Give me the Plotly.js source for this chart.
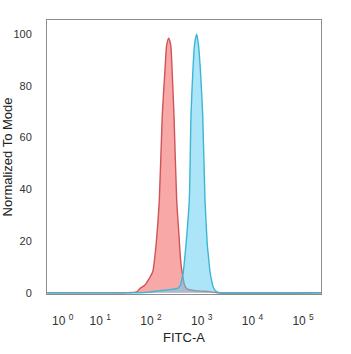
<!DOCTYPE html>
<html>
<head>
<meta charset="utf-8">
<script src="https://cdn.plot.ly/plotly-3.0.1.min.js"></script>
<style>html,body{margin:0;padding:0;background:#fff;}#chart{width:351px;height:354px;}</style>
</head>
<body>
<div id="chart"></div>
<script>
// Control (red) histogram: FITC-A values and normalized counts
const redX = [0.9, 30, 52, 61, 76, 108, 120, 126, 146, 167, 186, 204, 223, 245, 263, 284, 321, 357, 373, 391, 428, 458, 513, 738, 1459, 2094, 230000];
const redY = [0, 0, 0.3, 1.7, 3.0, 8.1, 14.6, 18.5, 35.9, 68.7, 84.2, 95.8, 98.5, 95.8, 84.2, 68.7, 35.9, 22, 16, 11, 6, 3, 1.5, 0.8, 0.4, 0, 0];
// Stained (blue) histogram
const blueX = [0.9, 60, 96, 151, 237, 341, 382, 403, 434, 469, 490, 569, 615, 664, 721, 796, 865, 956, 1047, 1162, 1289, 1349, 1459, 1597, 1694, 1977, 2300, 230000];
const blueY = [0, 0, 0.3, 0.8, 1.2, 1.8, 3.0, 5.0, 8.1, 14.6, 18.5, 35.9, 68.7, 84.2, 95.8, 100, 95.8, 84.2, 68.7, 35.9, 18.5, 14.6, 8.1, 4.0, 2.0, 0.3, 0, 0];
// Axis ticks
const xTickVals = [1.82, 10, 100, 1000, 10000, 100000];
const xTickText = ['10 <sup>0</sup>', '10 <sup>1</sup>', '10 <sup>2</sup>', '10 <sup>3</sup>', '10 <sup>4</sup>', '10 <sup>5</sup>'];
const yTickVals = [0, 20, 40, 60, 80, 100];

const font = 'Liberation Sans, Arial, sans-serif';
const traces = [
  {x: redX, y: redY, type: 'scatter', mode: 'lines', fill: 'tozeroy',
   fillcolor: 'rgba(245,105,105,0.58)', line: {color: '#cf5458', width: 1.4, shape: 'spline', smoothing: 0.6}, hoverinfo: 'none'},
  {x: blueX, y: blueY, type: 'scatter', mode: 'lines', fill: 'tozeroy',
   fillcolor: 'rgba(95,205,240,0.52)', line: {color: '#3db6d6', width: 1.4, shape: 'spline', smoothing: 0.6}, hoverinfo: 'none'}
];
const layout = {
  width: 351, height: 354,
  margin: {l: 47, r: 30, t: 20, b: 60},
  paper_bgcolor: '#fff', plot_bgcolor: '#fff',
  showlegend: false,
  font: {family: font, color: '#333', size: 11},
  xaxis: {
    type: 'log', range: [-0.051, 5.353],
    tickvals: xTickVals, ticktext: xTickText,
    ticks: '', ticklabelstandoff: 16,
    showgrid: false, zeroline: false,
    showline: true, mirror: true, linecolor: '#8c8c8c', linewidth: 1,
    tickfont: {size: 12, color: '#333'},
    title: {text: 'FITC-A', font: {size: 13, color: '#222'}, standoff: 5}
  },
  yaxis: {
    range: [-0.5, 105.5],
    tickvals: yTickVals,
    ticks: '', ticklabelstandoff: 12,
    showgrid: false, zeroline: false,
    showline: true, mirror: true, linecolor: '#8c8c8c', linewidth: 1,
    tickfont: {size: 11, color: '#333'},
    title: {text: 'Normalized To Mode', font: {size: 13, color: '#222'}, standoff: 4}
  }
};
Plotly.newPlot('chart', traces, layout, {displayModeBar: false, staticPlot: true});
</script>
</body>
</html>
